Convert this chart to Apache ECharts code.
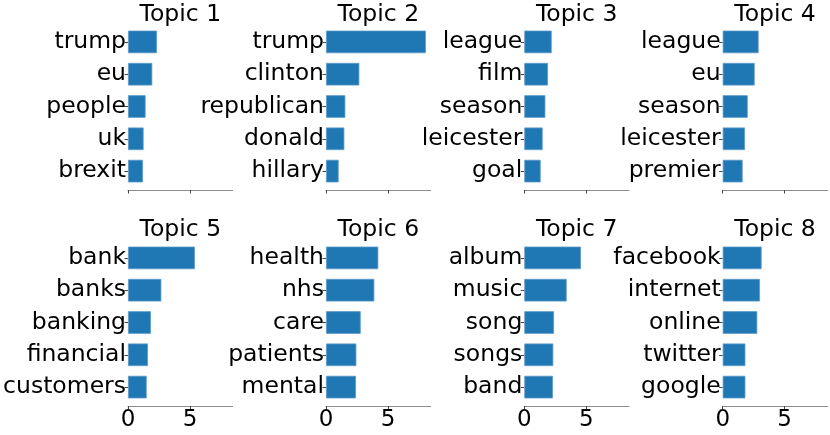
<!DOCTYPE html>
<html style="height: 100%">
<head>
<meta charset="utf-8">
<title>Topic words</title>
<script src="https://cdn.jsdelivr.net/npm/echarts@6/dist/echarts.min.js"></script>
</head>
<body style="height: 100%; margin: 0; background: #fff">
<div id="target" style="width: 830px; height: 435px"></div>
<script>
// chart data
let topicTitles = ["Topic 1", "Topic 2", "Topic 3", "Topic 4", "Topic 5", "Topic 6", "Topic 7", "Topic 8"];

let topicWords = [
    ["trump", "eu", "people", "uk", "brexit"],
    ["trump", "clinton", "republican", "donald", "hillary"],
    ["league", "film", "season", "leicester", "goal"],
    ["league", "eu", "season", "leicester", "premier"],
    ["bank", "banks", "banking", "financial", "customers"],
    ["health", "nhs", "care", "patients", "mental"],
    ["album", "music", "song", "songs", "band"],
    ["facebook", "internet", "online", "twitter", "google"],
];

let topicWeights = [
    [2.34, 1.96, 1.42, 1.26, 1.21],
    [8.06, 2.69, 1.56, 1.48, 1.02],
    [2.21, 1.91, 1.70, 1.48, 1.32],
    [2.90, 2.58, 2.02, 1.80, 1.61],
    [5.40, 2.69, 1.85, 1.61, 1.51],
    [4.22, 3.90, 2.80, 2.45, 2.42],
    [4.57, 3.42, 2.40, 2.34, 2.31],
    [3.14, 3.01, 2.79, 1.83, 1.83],
];

let xTicks = [0, 5];

let chart = echarts.init(document.getElementById('target'));

// layout of the 2x4 panels (px)
let colLeft   = [128, 326, 524.3, 722.7];
let axWidth   = 104.7;
let rowBottom = [190, 406];
let bandH     = 32.3;
let pad       = (0.585 - 0.5) * bandH;   // extra room matplotlib leaves below/above bars
let fontFam   = "DejaVu Sans";
let spineCol  = "#8c8c8c";

let grids = [], xAxes = [], yAxes = [], series = [], titles = [];

topicTitles.forEach((name, i) => {
    let col = i % 4;
    let row = Math.floor(i / 4);
    let bottomRow = row == 1;
    let gTop = rowBottom[row] - pad - 5 * bandH;

    grids.push({
        left: colLeft[col],
        top: gTop,
        width: axWidth,
        height: 5 * bandH,
    });

    xAxes.push({
        gridIndex: i,
        type: "value",
        min: 0,
        max: 8.45,
        interval: 5,
        offset: pad,
        splitLine: { show: false },
        axisLine: { show: true, lineStyle: { color: spineCol, width: 1 } },
        axisTick: { show: true, length: 3.5, lineStyle: { color: "#444" }, customValues: xTicks },
        axisLabel: {
            show: bottomRow,
            margin: 3,
            fontFamily: fontFam,
            fontSize: 23,
            color: "#000",
            customValues: xTicks,
        },
    });

    yAxes.push({
        gridIndex: i,
        type: "category",
        inverse: true,
        data: topicWords[i],
        axisLine: { show: false },
        axisTick: { show: true, alignWithLabel: true, length: 3.5, lineStyle: { color: "#444" } },
        axisLabel: {
            margin: 2,
            fontFamily: fontFam,
            fontSize: 23.5,
            color: "#000",
        },
        splitLine: { show: false },
    });

    series.push({
        type: "bar",
        xAxisIndex: i,
        yAxisIndex: i,
        data: topicWeights[i],
        barWidth: "70%",
        itemStyle: { color: "#1f77b4", borderColor: "#5d9bc9", borderWidth: 0.8 },
        silent: true,
    });

    titles.push({
        text: name,
        left: colLeft[col] + axWidth / 2,
        top: row * 215 + 3,
        textAlign: "center",
        padding: 0,
        textStyle: {
            fontFamily: fontFam,
            fontSize: 23.5,
            fontWeight: "normal",
            color: "#000",
        },
    });
});

chart.setOption({
    animation: false,
    title: titles,
    grid: grids,
    xAxis: xAxes,
    yAxis: yAxes,
    series: series,
});
</script>
</body>
</html>
